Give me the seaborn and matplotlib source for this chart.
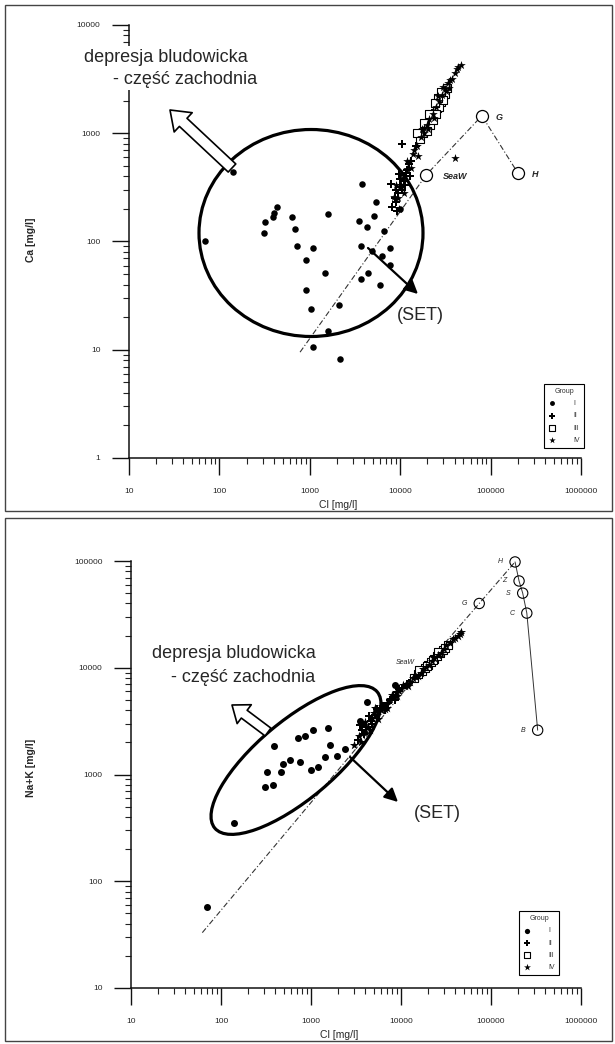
import numpy as np
import pandas as pd
import matplotlib
matplotlib.use("Agg")
import matplotlib.pyplot as plt
import matplotlib.ticker as mticker
from matplotlib.patches import Ellipse, FancyArrowPatch, Rectangle
from matplotlib.transforms import IdentityTransform
import seaborn as sns

# ---------------- dane: panel górny (Cl vs Ca) ----------------
top_I_cl = [140, 3800, 430, 400, 320, 390, 640, 1600, 310, 690, 3500, 4300, 720, 1080,
            3700, 70, 900, 1470, 4400, 3700, 900, 2100, 1030, 1600, 1080, 2150,
            5400, 5100, 6600, 4900, 7700, 6300, 7700, 6000, 9900]
top_I_ca = [440, 340, 210, 185, 150, 170, 170, 180, 120, 130, 155, 136, 90, 87,
            90, 100, 67, 51, 51, 45, 36, 26, 24, 15, 10.6, 8.2,
            230, 172, 125, 82, 87, 73, 61, 40, 200]
top_II_cl = [8200, 8700, 9100, 9500, 9900, 10400, 10900, 11600, 12400, 13200, 10500,
             14800, 9300, 8900, 12000, 8000, 10000, 11200, 12800, 9600]
top_II_ca = [210, 250, 230, 280, 320, 300, 360, 430, 520, 560, 800,
             760, 190, 300, 460, 340, 380, 330, 400, 420]
top_III_cl = [16500, 17800, 19000, 20500, 21500, 22500, 24000, 25500, 26500, 28000,
              29500, 31000, 23000, 27000, 33000, 20000, 25000, 30000, 18500, 21000,
              26000, 24500, 28500, 15500]
top_III_ca = [880, 1000, 1150, 1250, 1180, 1420, 1550, 1700, 1900, 1950,
              2200, 2300, 1320, 1750, 2600, 1050, 1500, 2050, 1250, 1500,
              2100, 1900, 2400, 1000]
top_IV_cl = [8500, 9400, 10100, 10700, 11800, 12800, 13800, 15200, 16800, 18200, 19800,
             21000, 22800, 24800, 26800, 28800, 31500, 34000, 37000, 40000, 47000,
             40000, 9700, 11000, 14200, 18500, 32500, 36000, 9000, 10500, 12000, 13000,
             15800, 17500, 20500, 23800, 26000, 30000, 35000, 42000, 44000]
top_IV_ca = [260, 250, 330, 390, 470, 560, 640, 760, 920, 1000, 1200,
             1350, 1500, 1750, 2000, 2250, 2550, 2900, 3200, 3600, 4300,
             590, 200, 280, 700, 1120, 2450, 3100, 330, 420, 560, 480,
             620, 1100, 1100, 1380, 2200, 2700, 2600, 3900, 4100]
# linia odparowania wody morskiej
top_line_cl = [780, 19400, 80000, 200000]
top_line_ca = [9.5, 412, 1450, 430]
top_st_names = ["SeaW", "G", "H"]
top_st_cl = [19400, 80000, 200000]
top_st_ca = [412, 1450, 430]

# ---------------- dane: panel dolny (Cl vs Na+K) ----------------
bot_I_cl = [70, 140, 310, 380, 325, 460, 490, 585, 760, 1000, 1200, 1430, 1950, 2400,
            1620, 390, 720, 860, 1050, 1550, 3500, 4200, 8600, 3700, 3900]
bot_I_nak = [57, 355, 760, 790, 1050, 1060, 1250, 1370, 1300, 1100, 1180, 1450, 1500, 1750,
             1900, 1850, 2200, 2300, 2600, 2700, 3200, 4800, 6900, 3000, 2500]
bot_II_cl = [3300, 3700, 4100, 4600, 5100, 5700, 6300, 7100, 8100, 9100, 10200, 11600,
             13200, 24000, 3500, 4400, 3900, 4800, 5400, 6600, 7500, 8600, 9600]
bot_II_nak = [2100, 2600, 2800, 3200, 3600, 3900, 4400, 4700, 5300, 5900, 6400, 7000,
              7700, 11500, 2900, 3500, 2400, 3000, 4100, 4000, 5000, 5000, 6300]
bot_III_cl = [14000, 15500, 17000, 18500, 20000, 21500, 23000, 25000, 27000, 29000, 31000, 33000,
              16000, 19500, 22500, 26000]
bot_III_nak = [8000, 8700, 9300, 10000, 10700, 11300, 12000, 12900, 13700, 14600, 15400, 16200,
               9600, 10300, 11800, 13900]
bot_IV_cl = [3000, 3400, 3800, 4300, 4800, 5400, 6000, 6800, 7600, 8600, 9500, 11000, 12500,
             14500, 16500, 19000, 22000, 26000, 30000, 35000, 40000, 47000, 38000, 43000,
             5200, 6600, 3600, 4000, 4500, 5000, 5600, 6200, 7000, 8000, 9000, 10500,
             12000, 13500, 15500, 17500, 20500, 23500, 28000, 32000, 45000]
bot_IV_nak = [1900, 2300, 2900, 2800, 3400, 3600, 4000, 4500, 5100, 5600, 6000, 6700, 7300,
              8200, 9000, 10100, 11500, 13200, 15000, 17000, 19000, 21500, 18500, 20000,
              4200, 4100, 2000, 3100, 2600, 3800, 3300, 4400, 4200, 5600, 5400, 6900,
              6800, 8100, 8300, 9800, 10500, 12400, 13600, 16200, 20500]
bot_line_cl = [62, 19400, 74000, 185000]
bot_line_nak = [33, 10900, 40000, 98000]
bot_st_names = ["G", "H", "Z", "S", "C", "B"]
bot_st_cl = [74000, 185000, 205000, 225000, 250000, 330000]
bot_st_nak = [40000, 98000, 65000, 50000, 32500, 2600]

group_names = ["I", "II", "III", "IV"]

sns.set_style("ticks")
plt.rcParams["font.family"] = ["Liberation Sans", "DejaVu Sans"]

W, H = 615, 1044
fig = plt.figure(figsize=(W / 100, H / 100), dpi=100)
ax1 = fig.add_axes([129 / W, 1 - 458 / H, 452 / W, 433 / H])
ax2 = fig.add_axes([131 / W, 1 - 988 / H, 450 / W, 427 / H])


def px(x, y):
    # piksele obrazka -> wspolrzedne ekranu
    return (x, H - y)


def style_axis(ax, ylim):
    ax.set_xscale("log")
    ax.set_yscale("log")
    ax.set_xlim(10, 1e6)
    ax.set_ylim(*ylim)
    sns.despine(ax=ax)
    fmt = mticker.FuncFormatter(lambda v, p: f"{int(round(v))}")
    for a in (ax.xaxis, ax.yaxis):
        a.set_major_locator(mticker.LogLocator(base=10, numticks=12))
        a.set_minor_locator(mticker.LogLocator(base=10, subs=np.arange(2, 10), numticks=60))
        a.set_major_formatter(fmt)
        a.set_minor_formatter(mticker.NullFormatter())
    ax.tick_params(which="major", direction="out", length=12.5, width=1.0, labelsize=6, color="#111")
    ax.tick_params(which="minor", direction="out", length=4.5, width=0.8, color="#222")
    ax.tick_params(axis="x", which="major", pad=9)
    ax.tick_params(axis="y", which="major", pad=8)
    for s in ("left", "bottom"):
        ax.spines[s].set_linewidth(1.1)
        ax.spines[s].set_color("#111")
    ax.patch.set_alpha(0)


def draw_groups(ax, data, scale=1.0):
    # data: lista (x, y) dla grup I..IV
    specs = [("o", 22, "black", 0.0), ("P", 30, "black", 0.0),
             ("s", 26, "white", 0.8), ("*", 42, "black", 0.0)]
    for name, (xs, ys), (mk, sz, fc, lw) in zip(group_names, data, specs):
        sns.scatterplot(x=xs, y=ys, ax=ax, marker=mk, s=sz * scale, facecolor=fc,
                        edgecolor="black", linewidth=lw, label=name, zorder=3, legend=False)


def add_legend(ax, anchor):
    leg = ax.legend(title="Group", loc="lower right", bbox_to_anchor=anchor,
                    fontsize=5, title_fontsize=5, frameon=True, fancybox=False,
                    edgecolor="black", framealpha=1, borderpad=0.6, labelspacing=0.75,
                    handletextpad=2.6, handlelength=1.0, markerscale=0.75, borderaxespad=0)
    leg.get_frame().set_linewidth(0.8)
    leg.set_zorder(8)
    for t in leg.get_texts():
        t.set_color("#333")
    leg.get_title().set_color("#333")


# ---------------- panel górny ----------------
style_axis(ax1, (1, 10000))
ax1.plot(top_line_cl, top_line_ca, color="#333", lw=0.8, dashes=(5, 2, 1, 2), zorder=2)
draw_groups(ax1, [(top_I_cl, top_I_ca), (top_II_cl, top_II_ca),
                  (top_III_cl, top_III_ca), (top_IV_cl, top_IV_ca)])
sns.scatterplot(x=top_st_cl, y=top_st_ca, ax=ax1, marker="o", s=75, facecolor="white",
                edgecolor="black", linewidth=0.9, zorder=4, legend=False, clip_on=False)
for name, x, y in zip(top_st_names, top_st_cl, top_st_ca):
    ax1.annotate(name, (x, y), xytext=(12 if name == "SeaW" else 10, -1),
                 textcoords="offset points", ha="left", va="center",
                 fontsize=6.5, style="italic", fontweight="bold")
add_legend(ax1, (1.007, 0.023))
ax1.set_xlabel("Cl [mg/l]", fontsize=7.5)
ax1.set_ylabel("Ca [mg/l]", fontsize=7.5, fontweight="bold")
ax1.xaxis.set_label_coords(0.462, -0.098)
ax1.yaxis.set_label_coords(-0.206, 0.503)

fig.add_artist(Ellipse(px(311, 233), 224, 207, fill=False, lw=2.3, ec="black",
                       transform=IdentityTransform(), zorder=5))
fig.add_artist(FancyArrowPatch(px(232, 168), px(170, 110),
                               arrowstyle="simple,head_length=13,head_width=19,tail_width=8",
                               mutation_scale=1, fc="white", ec="black", lw=1.2,
                               shrinkA=0, shrinkB=0, transform=IdentityTransform(), zorder=6))
fig.add_artist(FancyArrowPatch(px(368, 248), px(418, 294),
                               arrowstyle="-|>,head_length=8,head_width=4",
                               mutation_scale=1, color="black", lw=1.6,
                               shrinkA=0, shrinkB=0, transform=IdentityTransform(), zorder=6))
box = dict(fc="white", ec="none", pad=1.5)
fig.text(84 / W, 1 - 57 / H, "depresja bludowicka", fontsize=13, ha="left", va="center",
         bbox=box, zorder=7)
fig.text(113 / W, 1 - 79 / H, "- część zachodnia", fontsize=13, ha="left", va="center",
         bbox=box, zorder=7)
fig.text(420 / W, 1 - 316 / H, "(SET)", fontsize=13, ha="center", va="center", zorder=7)

# ---------------- panel dolny ----------------
style_axis(ax2, (10, 100000))
ax2.plot(bot_line_cl, bot_line_nak, color="#333", lw=0.8, dashes=(5, 2, 1, 2), zorder=2)
ax2.plot(bot_st_cl[1:], bot_st_nak[1:], color="#333", lw=0.7, zorder=2)
draw_groups(ax2, [(bot_I_cl, bot_I_nak), (bot_II_cl, bot_II_nak),
                  (bot_III_cl, bot_III_nak), (bot_IV_cl, bot_IV_nak)], scale=1.15)
sns.scatterplot(x=bot_st_cl, y=bot_st_nak, ax=ax2, marker="o", s=55, facecolor="none",
                edgecolor="black", linewidth=0.8, zorder=4, legend=False, clip_on=False)
for name, x, y in zip(bot_st_names, bot_st_cl, bot_st_nak):
    ax2.annotate(name, (x, y), xytext=(-9, 0), textcoords="offset points",
                 ha="right", va="center", fontsize=5, style="italic")
ax2.annotate("SeaW", (bot_line_cl[1], bot_line_nak[1]), xytext=(-9, 1),
             textcoords="offset points", ha="right", va="center", fontsize=5, style="italic")
add_legend(ax2, (0.951, 0.03))
ax2.set_xlabel("Cl [mg/l]", fontsize=7.5)
ax2.set_ylabel("Na+K [mg/l]", fontsize=7.5, fontweight="bold")
ax2.xaxis.set_label_coords(0.462, -0.098)
ax2.yaxis.set_label_coords(-0.211, 0.515)

fig.add_artist(Ellipse(px(296, 760), 212, 78, angle=40, fill=False, lw=2.3, ec="black",
                       transform=IdentityTransform(), zorder=5))
fig.add_artist(FancyArrowPatch(px(268, 732), px(232, 705),
                               arrowstyle="simple,head_length=11,head_width=17,tail_width=7",
                               mutation_scale=1, fc="white", ec="black", lw=1.2,
                               shrinkA=0, shrinkB=0, transform=IdentityTransform(), zorder=6))
fig.add_artist(FancyArrowPatch(px(350, 757), px(398, 802),
                               arrowstyle="-|>,head_length=8,head_width=4",
                               mutation_scale=1, color="black", lw=1.6,
                               shrinkA=0, shrinkB=0, transform=IdentityTransform(), zorder=6))
fig.text(152 / W, 1 - 654 / H, "depresja bludowicka", fontsize=13, ha="left", va="center", zorder=7)
fig.text(171 / W, 1 - 678 / H, "- część zachodnia", fontsize=13, ha="left", va="center", zorder=7)
fig.text(437 / W, 1 - 813 / H, "(SET)", fontsize=13, ha="center", va="center", zorder=7)

# ramki paneli
fig.add_artist(Rectangle((5, H - 511), 607, 506, fill=False, ec="#444", lw=1.0,
                         transform=IdentityTransform()))
fig.add_artist(Rectangle((5, H - 1041), 607, 523, fill=False, ec="#444", lw=1.0,
                         transform=IdentityTransform()))

fig.savefig("out.png", dpi=100)
